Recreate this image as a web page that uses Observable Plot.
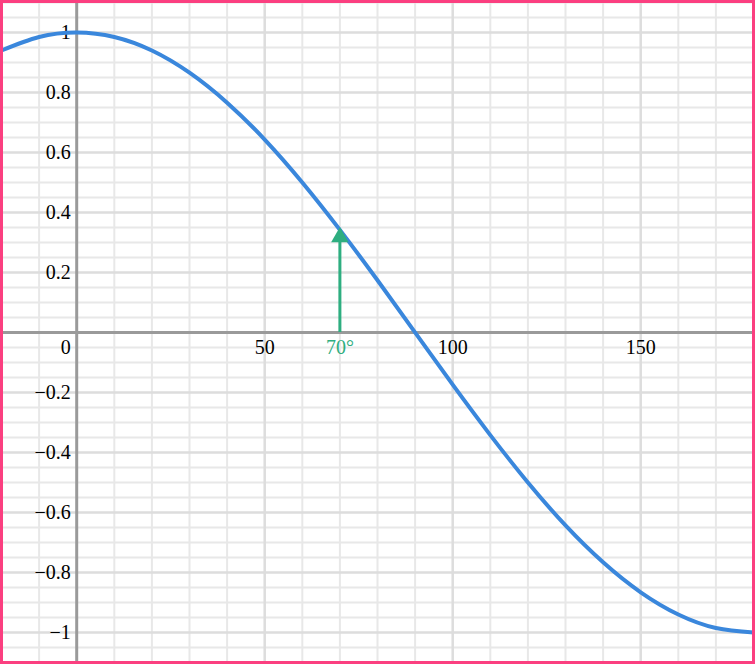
<!DOCTYPE html>
<html>
<head>
<meta charset="utf-8">
<script src="https://cdn.jsdelivr.net/npm/d3@7"></script>
<script src="https://cdn.jsdelivr.net/npm/@observablehq/plot@0.6"></script>
<style>
  html, body { margin: 0; padding: 0; background: #fff; }
  #wrap { position: relative; width: 755px; height: 664px; overflow: hidden; }
  #wrap svg { position: absolute; left: 0; top: 0; }
  #border { position: absolute; left: 0; top: 0; width: 755px; height: 664px; box-sizing: border-box; border: 3px solid #fb3f80; pointer-events: none; }
</style>
</head>
<body>
<div id="wrap"><div id="border"></div></div>
<script>
// Curve samples (angle in degrees, value)
const angles = [-20, -10, 0, 10, 20, 30, 40, 50, 60, 70, 80, 90, 100, 110, 120, 130, 140, 150, 160, 170, 180];
const values = [0.94, 0.985, 1, 0.985, 0.94, 0.866, 0.766, 0.643, 0.5, 0.342, 0.174, 0, -0.174, -0.342, -0.5, -0.643, -0.766, -0.866, -0.94, -0.985, -1];

// Tick labels
const xTickValues = [50, 100, 150];
const yTickValues = [-1, -0.8, -0.6, -0.4, -0.2, 0.2, 0.4, 0.6, 0.8, 1];

// Grid lines
const xMinorGrid = [-20, -10, 10, 20, 30, 40, 60, 70, 80, 90, 110, 120, 130, 140, 160, 170, 180];
const xMajorGrid = [50, 100, 150];
const yMinorGrid = d3.range(-22, 23).map(d => d * 0.05).filter(d => Math.abs(Math.round(d * 100) % 20) !== 0);
const yMajorGrid = [-1, -0.8, -0.6, -0.4, -0.2, 0.2, 0.4, 0.6, 0.8, 1];

// Highlighted angle
const markerAngle = [70];
const markerValue = [0.342];
const markerLabel = ["70°"];

const curve = angles.map((a, i) => ({a, v: values[i]}));
const fmt = d => (d < 0 ? "\u2212" : "") + Math.abs(d).toString();

const green = "#2eae80";
const font = "'Liberation Serif', 'DejaVu Serif', serif";
const fs = 20;

const chart = Plot.plot({
  width: 755,
  height: 664,
  marginLeft: 1,
  marginRight: 2,
  marginTop: 2,
  marginBottom: 2,
  style: {fontFamily: font, background: "#fff"},
  x: {domain: [-20, 180], axis: null},
  y: {domain: [-1.1, 1.1], axis: null},
  marks: [
    Plot.ruleY(yMinorGrid, {stroke: "#e8e8e8", strokeWidth: 2}),
    Plot.ruleX(xMinorGrid, {stroke: "#e8e8e8", strokeWidth: 2}),
    Plot.ruleY(yMajorGrid, {stroke: "#dddddd", strokeWidth: 2.5}),
    Plot.ruleX(xMajorGrid, {stroke: "#dddddd", strokeWidth: 2.5}),
    Plot.ruleY([0], {stroke: "#9a9a9a", strokeWidth: 3}),
    Plot.ruleX([0], {stroke: "#9a9a9a", strokeWidth: 3}),
    Plot.text(yTickValues, {x: 0, y: d => d, text: d => fmt(d), textAnchor: "end", dx: -6, fontSize: fs, fill: "#000"}),
    Plot.text(xTickValues, {x: d => d, y: 0, text: d => fmt(d), dy: 15, fontSize: fs, fill: "#000"}),
    Plot.text([0], {x: 0, y: 0, text: d => "0", textAnchor: "end", dx: -6, dy: 15, fontSize: fs, fill: "#000"}),
    Plot.line(curve, {x: "a", y: "v", curve: "natural", stroke: "#3a87dc", strokeWidth: 4}),
    Plot.ruleX(markerAngle, {x: d => d, y1: 0, y2: markerValue[0] - 0.04, stroke: green, strokeWidth: 3}),
    Plot.dot(markerAngle, {x: d => d, y: markerValue[0] - 0.024, symbol: "triangle", r: 6.5, fill: green, stroke: null}),
    Plot.text(markerAngle, {x: d => d, y: 0, text: (d, i) => markerLabel[i], dy: 15, fontSize: fs, fill: green})
  ]
});
document.getElementById("wrap").insertBefore(chart, document.getElementById("border"));
</script>
</body>
</html>
